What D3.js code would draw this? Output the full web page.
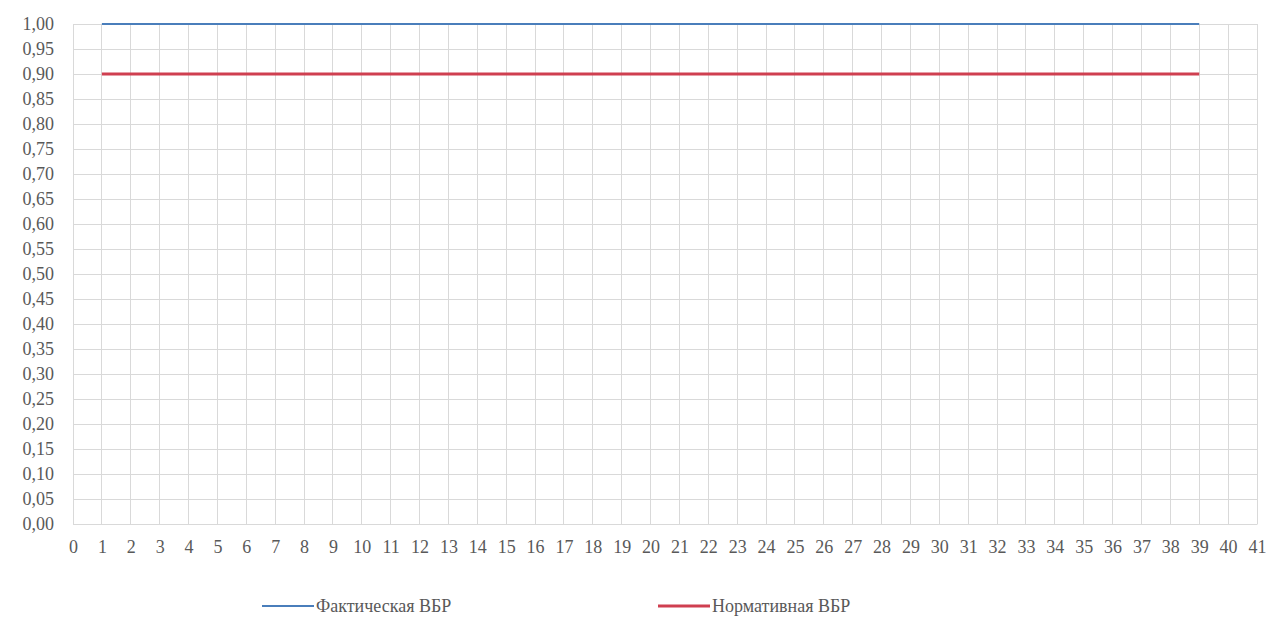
<!DOCTYPE html>
<html><head><meta charset="utf-8">
<script src="https://cdn.jsdelivr.net/npm/d3@7"></script>
<style>body{margin:0;background:#fff}svg{display:block}svg text{font-family:"Liberation Serif","DejaVu Serif",serif !important;font-size:18px !important;fill:#595959}</style>
</head><body><svg id="c" width="1268" height="617"></svg>
<script>
const points = [1,2,3,4,5,6,7,8,9,10,11,12,13,14,15,16,17,18,19,20,21,22,23,24,25,26,27,28,29,30,31,32,33,34,35,36,37,38,39];
const actual = [1,1,1,1,1,1,1,1,1,1,1,1,1,1,1,1,1,1,1,1,1,1,1,1,1,1,1,1,1,1,1,1,1,1,1,1,1,1,1];
const normative = [0.9,0.9,0.9,0.9,0.9,0.9,0.9,0.9,0.9,0.9,0.9,0.9,0.9,0.9,0.9,0.9,0.9,0.9,0.9,0.9,0.9,0.9,0.9,0.9,0.9,0.9,0.9,0.9,0.9,0.9,0.9,0.9,0.9,0.9,0.9,0.9,0.9,0.9,0.9];
const xTicks = [0,1,2,3,4,5,6,7,8,9,10,11,12,13,14,15,16,17,18,19,20,21,22,23,24,25,26,27,28,29,30,31,32,33,34,35,36,37,38,39,40,41];
const yTicks = [0,0.05,0.1,0.15,0.2,0.25,0.3,0.35,0.4,0.45,0.5,0.55,0.6,0.65,0.7,0.75,0.8,0.85,0.9,0.95,1];
const seriesNames = ["Фактическая ВБР","Нормативная ВБР"];

const svg = d3.select("#c");
const x = d3.scaleLinear().domain([0,41]).range([73,1257]);
const y = d3.scaleLinear().domain([0,1]).range([524,24]);
const fmt = v => d3.format(".2f")(v).replace(".", ",");

// grid
svg.append("g").selectAll("line").data(yTicks).join("line")
  .attr("x1", x(0)).attr("x2", x(41)).attr("y1", d=>y(d)).attr("y2", d=>y(d))
  .attr("stroke", "#d9d9d9").attr("stroke-width", 1).attr("shape-rendering","crispEdges");
svg.append("g").selectAll("line").data(xTicks).join("line")
  .attr("x1", d=>x(d)).attr("x2", d=>x(d)).attr("y1", y(0)).attr("y2", y(1))
  .attr("stroke", "#d9d9d9").attr("stroke-width", 1).attr("shape-rendering","crispEdges");

// axes
const yAxis = d3.axisLeft(y).tickValues(yTicks).tickFormat(fmt).tickSize(0).tickPadding(19);
const gy = svg.append("g").attr("transform", `translate(${x(0)},0)`).call(yAxis);
gy.select(".domain").remove();

const xAxis = d3.axisBottom(x).tickValues(xTicks).tickFormat(d3.format("d")).tickSize(0).tickPadding(16);
const gx = svg.append("g").attr("transform", `translate(0,${y(0)})`).call(xAxis);
gx.select(".domain").attr("stroke","#d9d9d9");

// lines
const line = d3.line().x((d,i)=>x(points[i])).y(d=>y(d));
svg.append("path").datum(normative).attr("d", line).attr("fill","none")
  .attr("stroke","#cf3f50").attr("stroke-width",3);
svg.append("path").datum(actual).attr("d", line).attr("fill","none")
  .attr("stroke","#4a7ebb").attr("stroke-width",2);

// legend
const legend = [{name:seriesNames[0], color:"#4a7ebb", w:2, x:262},{name:seriesNames[1], color:"#cf3f50", w:3, x:658}];
const lg = svg.append("g").selectAll("g").data(legend).join("g").attr("transform", d=>`translate(${d.x},606)`);
lg.append("line").attr("x1",0).attr("x2",52).attr("y1",0).attr("y2",0)
  .attr("stroke", d=>d.color).attr("stroke-width", d=>d.w);
lg.append("text").attr("x",54).attr("y",0).attr("dy","0.35em").text(d=>d.name);
</script></body></html>
